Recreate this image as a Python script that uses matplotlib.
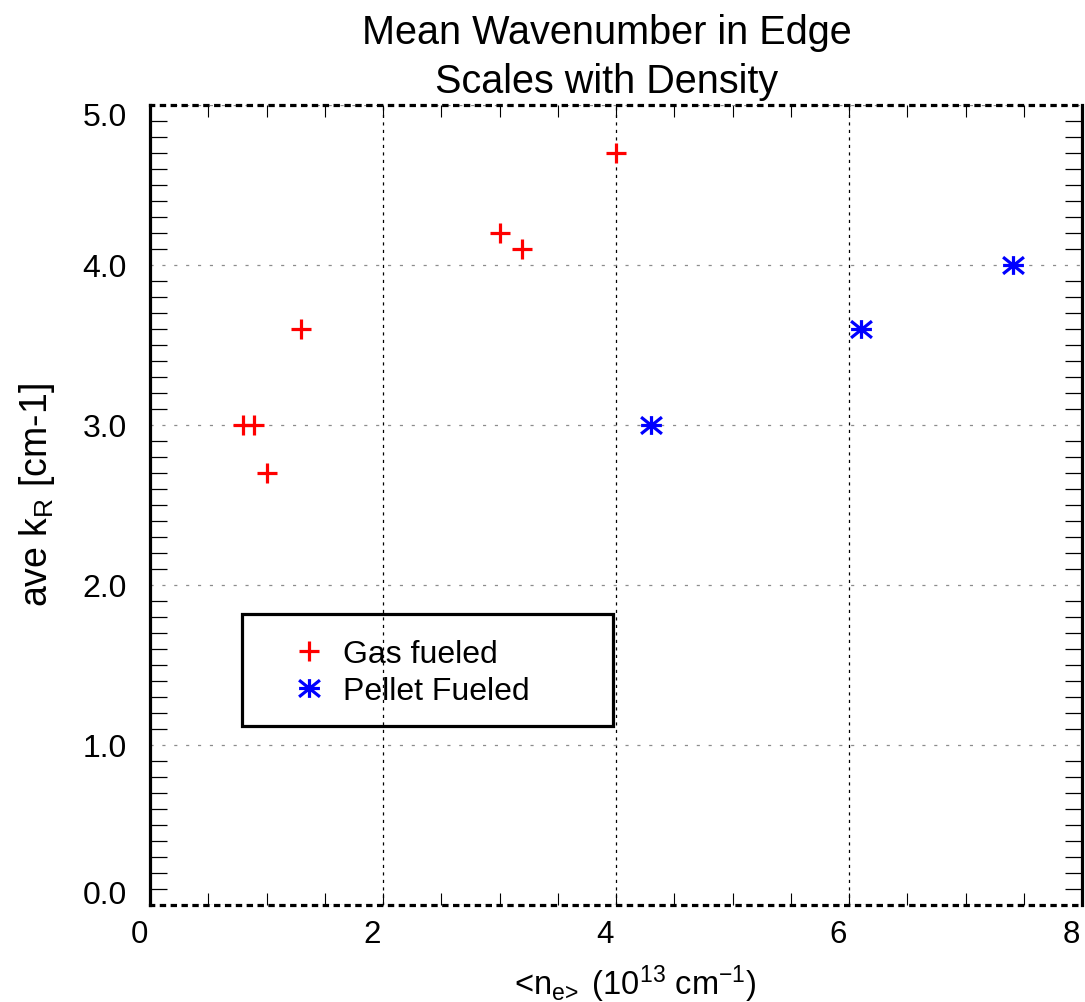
import numpy as np
import matplotlib
matplotlib.use("Agg")
from matplotlib import pyplot as plt
from matplotlib.path import Path
from matplotlib.patches import Rectangle
from matplotlib.ticker import MultipleLocator
from matplotlib.transforms import ScaledTranslation

plt.rcParams['font.family'] = ['Liberation Sans', 'DejaVu Sans']
plt.rcParams['mathtext.fontset'] = 'custom'
plt.rcParams['mathtext.rm'] = 'Liberation Sans'
plt.rcParams['mathtext.it'] = 'Liberation Sans'

# data
gas_ne = [0.80, 0.89, 1.00, 1.30, 3.00, 3.19, 4.00]
gas_k = [3.0, 3.0, 2.7, 3.6, 4.2, 4.1, 4.7]
pellet_ne = [4.30, 6.10, 7.41]
pellet_k = [3.0, 3.6, 4.0]

x_ticks = [0, 2, 4, 6, 8]
y_ticks = [0.0, 1.0, 2.0, 3.0, 4.0, 5.0]
y_tick_labels = ['0.0', '1.0', '2.0', '3.0', '4.0', '5.0']

# IDL style asterisk
star = Path([(-1, 0), (1, 0), (0, -0.9), (0, 0.9),
             (-1, -0.8), (1, 0.8), (-1, 0.8), (1, -0.8)],
            [Path.MOVETO, Path.LINETO] * 4)

fig = plt.figure(figsize=(10.85, 10.03), dpi=100)
ax = fig.add_axes([150/1085, 97/1003, 932/1085, 800/1003])

ax.plot(gas_ne, gas_k, ls='none', marker='+', ms=15, mew=2.3,
        color='#ff0000', label='Gas fueled')
ax.plot(pellet_ne, pellet_k, ls='none', marker=star, ms=15, mew=2.3,
        color='#0000ff', label='Pellet Fueled')

ax.set_xlim(0, 8)
ax.set_ylim(0, 5)
ax.set_xticks(x_ticks)
ax.set_yticks(y_ticks)
ax.set_yticklabels(y_tick_labels)
ax.xaxis.set_minor_locator(MultipleLocator(0.5))
ax.yaxis.set_minor_locator(MultipleLocator(0.1))

ax.tick_params(axis='x', which='both', direction='in', top=True, bottom=True,
               length=8.6, width=0.8, labelsize=22.5, pad=10)
ax.tick_params(axis='y', which='minor', direction='in', left=True, right=True,
               length=12, width=0.9)
ax.tick_params(axis='y', which='major', direction='in', left=True, right=True,
               length=0, labelsize=23, pad=16.5)

ax.set_axisbelow(True)
ax.grid(True, axis='x', color='black', lw=0.9, ls=(0, (2.5, 3.5)))
ax.grid(True, axis='y', color='0.55', lw=0.9, ls=(0, (2.5, 7)))

for s in ['left', 'right']:
    ax.spines[s].set_linewidth(2.3)
for s in ['top', 'bottom']:
    ax.spines[s].set_linewidth(2.3)
    ax.spines[s].set_linestyle((0, (1, 2.4)))

# IDL-ish label offsets
for lab in ax.get_xticklabels():
    lab.set_transform(lab.get_transform() + ScaledTranslation(-11/100, 0, fig.dpi_scale_trans))
ylabs = ax.get_yticklabels()
ylabs[0].set_transform(ylabs[0].get_transform() + ScaledTranslation(0, 13/100, fig.dpi_scale_trans))
ylabs[-1].set_transform(ylabs[-1].get_transform() + ScaledTranslation(0, -9/100, fig.dpi_scale_trans))

fig.text(607/1085, 1 - 93/1003, 'Mean Wavenumber in Edge\nScales with Density',
         ha='center', va='baseline', fontsize=28.5, linespacing=1.38)
fig.text(37/1085, 1 - 495/1003, r'ave k$_{\mathregular{R}}$ [cm-1]',
         rotation=90, ha='center', va='center', fontsize=27)
fig.text(635/1085, 8/1003,
         r'<n$_{\mathregular{e\!>}}$ (10$^{\mathregular{13}}$ cm$^{\mathregular{-1}}$)',
         ha='center', va='baseline', fontsize=23.5)

leg = ax.legend(loc='upper left', bbox_to_anchor=((295-150)/932, (906-640)/800),
                frameon=False, borderpad=0, borderaxespad=0, handlelength=0.9,
                handletextpad=0.6, labelspacing=0.22, fontsize=23, numpoints=1)
ax.add_patch(Rectangle(((242-150)/932, (906-727)/800), (613-242)/932, (727-615)/800,
                       transform=ax.transAxes, fill=False, lw=2.3, ec='black', zorder=4))

fig.savefig('out.png', dpi=100)
